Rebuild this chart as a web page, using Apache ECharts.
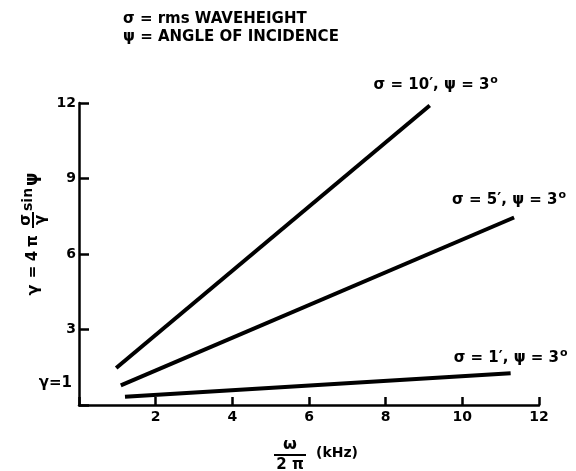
<!DOCTYPE html>
<html>
<head>
<meta charset="utf-8">
<script src="https://cdn.jsdelivr.net/npm/echarts@6/dist/echarts.min.js"></script>
<style>html,body{margin:0;padding:0;background:#fff}#c{width:576px;height:471px}</style>
</head>
<body>
<div id="c"></div>
<script>
var xTicks = [0, 2, 4, 6, 8, 10, 12];
var yTicks = [0, 3, 6, 9, 12];
var seriesNames = ['σ = 10′, ψ = 3', 'σ = 5′, ψ = 3', 'σ = 1′, ψ = 3'];
var sigma10 = [[0.97, 1.47], [9.15, 11.9]];
var sigma5 = [[1.09, 0.78], [11.35, 7.45]];
var sigma1 = [[1.2, 0.33], [11.26, 1.26]];
var refLevel = [0, 1];

var FONT = '"DejaVu Sans", "Liberation Sans", Arial, sans-serif';
var chart = echarts.init(document.getElementById('c'), null, {renderer: 'canvas'});

function mkSeries(name, pts, dist, offX) {
  var data = pts.map(function (p, i) {
    if (i === pts.length - 1) {
      return {
        value: p,
        label: {
          show: true, position: 'top', distance: dist, offset: [offX, 0],
          formatter: '{a|' + name + '}{s|o}',
          rich: {
            a: {fontFamily: FONT, fontWeight: 'bold', fontSize: 15, color: '#000'},
            s: {fontFamily: FONT, fontWeight: 'bold', fontSize: 11, color: '#000', verticalAlign: 'top', padding: [0, 0, 10, 1]}
          }
        }
      };
    }
    return {value: p, label: {show: false}};
  });
  return {
    type: 'line', name: name, data: data, symbol: 'circle', symbolSize: 0, showSymbol: true, silent: true,
    itemStyle: {color: '#000'},
    lineStyle: {color: '#000', width: 4, cap: 'butt'},
    animation: false
  };
}

var option = {
  backgroundColor: '#fff',
  animation: false,
  grid: {left: 79, right: 37, top: 103, bottom: 66, containLabel: false},
  xAxis: {
    type: 'value', min: 0, max: 12, interval: 2,
    axisLine: {show: true, lineStyle: {color: '#000', width: 2.5}},
    axisTick: {show: true, inside: true, length: 8, lineStyle: {color: '#000', width: 2.5}},
    splitLine: {show: false},
    axisLabel: {
      margin: 5, color: '#000', fontFamily: FONT, fontWeight: 'bold', fontSize: 14,
      formatter: function (v) { return (v === 0 || xTicks.indexOf(v) < 0) ? '' : String(v); }
    }
  },
  yAxis: {
    type: 'value', min: 0, max: 12, interval: 3,
    axisLine: {show: true, lineStyle: {color: '#000', width: 2.5}},
    axisTick: {show: true, inside: true, length: 10, lineStyle: {color: '#000', width: 2.5}},
    splitLine: {show: false},
    axisLabel: {
      margin: 3, color: '#000', fontFamily: FONT, fontWeight: 'bold', fontSize: 14,
      formatter: function (v) { return (v === 0 || yTicks.indexOf(v) < 0) ? '' : String(v); }
    }
  },
  series: [
    mkSeries(seriesNames[0], sigma10, 10, 6),
    mkSeries(seriesNames[1], sigma5, 7, -5),
    mkSeries(seriesNames[2], sigma1, 5, 0)
  ],
  graphic: []
};
chart.setOption(option);

var tf = {fontFamily: FONT, fontWeight: 'bold', fontSize: 15, fill: '#000'};
function t(txt, x, y, extra) {
  var s = Object.assign({}, tf, {text: txt, x: x, y: y, textAlign: 'left', textVerticalAlign: 'middle'}, extra || {});
  return {type: 'text', style: s, silent: true};
}
var p1 = chart.convertToPixel({gridIndex: 0}, refLevel);

var graphics = [
  // title lines
  t('σ = rms WAVEHEIGHT', 123, 19, {fontSize: 15}),
  t('ψ = ANGLE OF INCIDENCE', 123, 37, {fontSize: 15}),
  // gamma = 1 reference label
  t('γ=1', p1[0] - 7, p1[1] + 3, {textAlign: 'right'}),
  // x-axis name: omega / 2 pi (kHz)
  t('ω', 290, 445, {textAlign: 'center', fontSize: 16}),
  {type: 'line', shape: {x1: 274, y1: 455, x2: 306, y2: 455}, style: {stroke: '#000', lineWidth: 2}, silent: true},
  t('2 π', 290, 465, {textAlign: 'center'}),
  t('(kHz)', 316, 453, {fontSize: 14}),
  // y-axis name (rotated)
  {
    type: 'group', x: 33, y: 297, rotation: Math.PI / 2, silent: true,
    children: [
      t('γ', 7, 1, {textAlign: 'center', fontSize: 16}),
      t('=', 25, 0, {textAlign: 'center'}),
      t('4', 41, 0, {textAlign: 'center'}),
      t('π', 56, 0, {textAlign: 'center'}),
      {type: 'line', shape: {x1: 69, y1: 0, x2: 85, y2: 0}, style: {stroke: '#000', lineWidth: 2}, silent: true},
      t('σ', 77, -7, {textAlign: 'center'}),
      t('γ', 77, 8, {textAlign: 'center'}),
      t('sin', 86, -5, {fontSize: 14}),
      t('ψ', 111, 0, {fontSize: 17})
    ]
  }
];
chart.setOption({graphic: graphics});
</script>
</body>
</html>
